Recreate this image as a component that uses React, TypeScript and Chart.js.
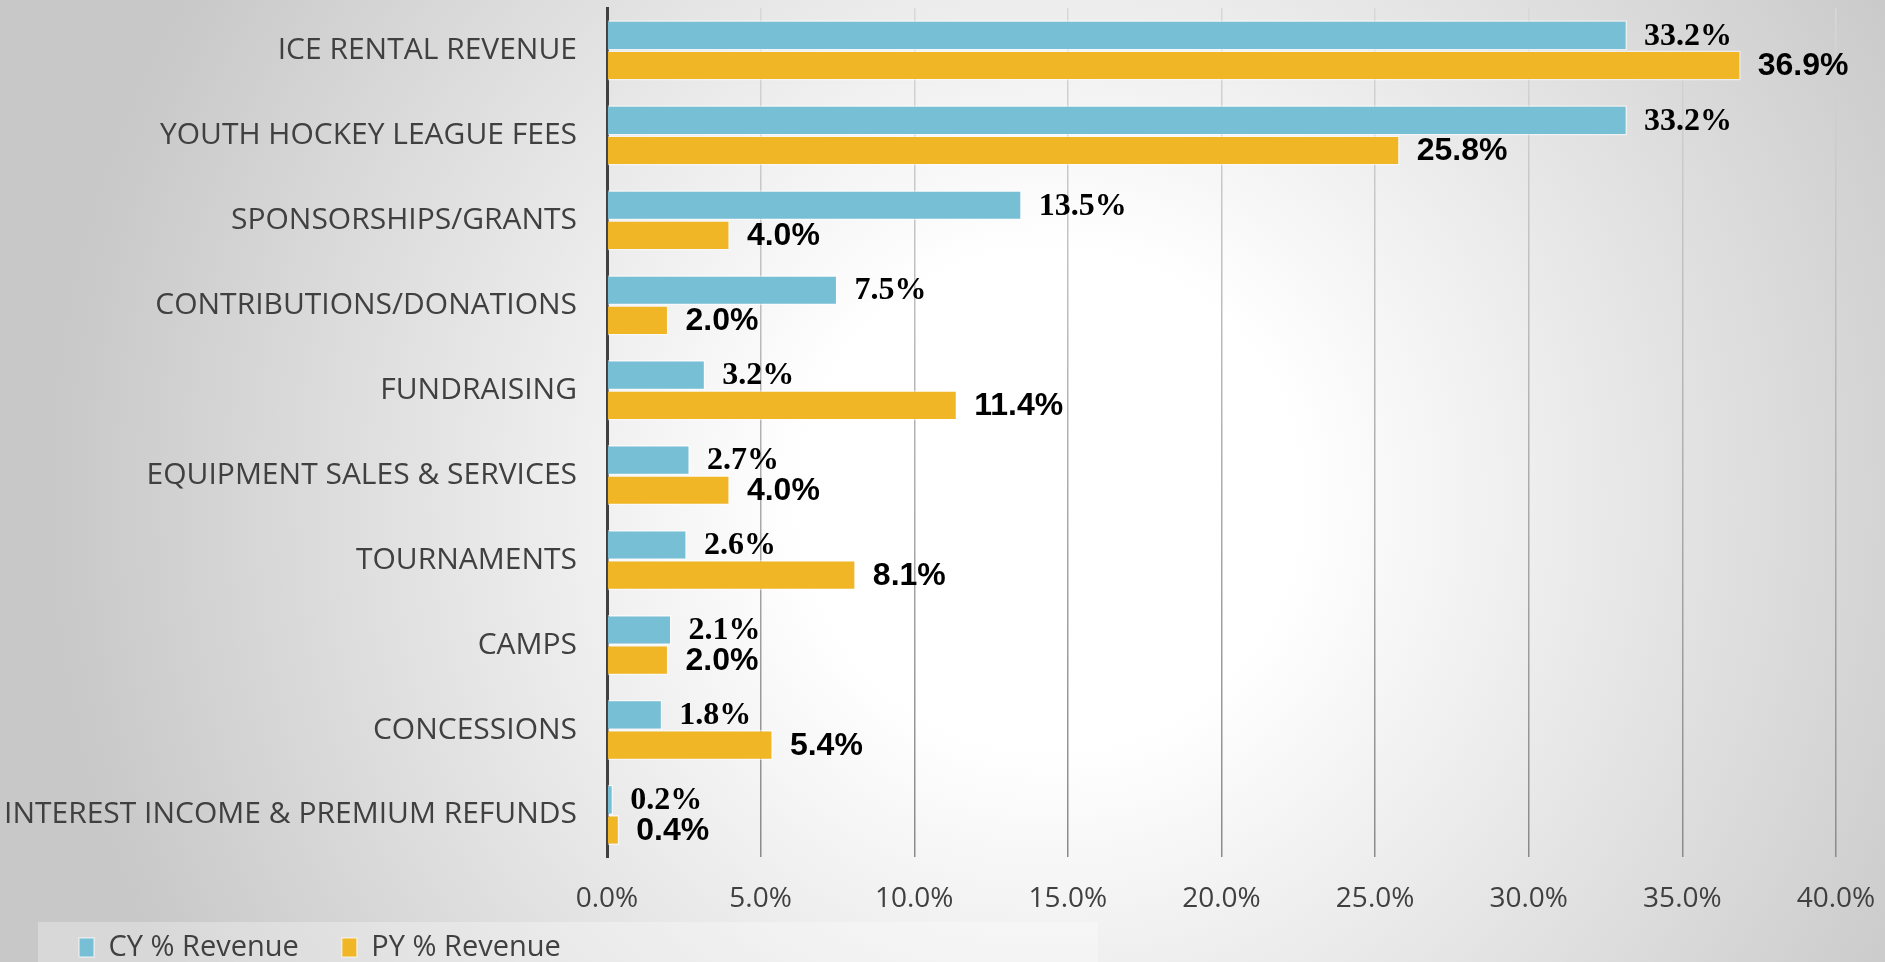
import React, { useEffect, useRef } from 'react';
import { Chart, registerables } from 'chart.js';

Chart.register(...registerables);

const categories = [
  'ICE RENTAL REVENUE',
  'YOUTH HOCKEY LEAGUE FEES',
  'SPONSORSHIPS/GRANTS',
  'CONTRIBUTIONS/DONATIONS',
  'FUNDRAISING',
  'EQUIPMENT SALES & SERVICES',
  'TOURNAMENTS',
  'CAMPS',
  'CONCESSIONS',
  'INTEREST INCOME & PREMIUM REFUNDS',
];
const cyValues = [33.2, 33.2, 13.5, 7.5, 3.2, 2.7, 2.6, 2.1, 1.8, 0.2];
const pyValues = [36.9, 25.8, 4.0, 2.0, 11.4, 4.0, 8.1, 2.0, 5.4, 0.4];
const seriesNames = ['CY % Revenue', 'PY % Revenue'];
const xMin = 0;
const xMax = 40;
const xStep = 5;

const CY_COLOR = '#77BFD5';
const PY_COLOR = '#F0B626';

export default function App() {
  const ref = useRef<HTMLCanvasElement>(null);

  useEffect(() => {
    document.body.style.margin = '0';
    const canvas = ref.current;
    if (!canvas) return;

    const bgPlugin = {
      id: 'bgPlugin',
      beforeDraw(chart: any) {
        const { ctx, width, height } = chart;
        const lg = chart.legend;
        if (lg) {
          const dy = 890 - lg.top;
          lg.top += dy;
          lg.bottom += dy;
          const dx = 36 - lg.left;
          lg.left += dx;
          lg.right += dx;
        }
        ctx.save();
        const g = ctx.createRadialGradient(1050, 500, 0, 1050, 500, 1000);
        g.addColorStop(0, '#ffffff');
        g.addColorStop(0.25, '#ffffff');
        g.addColorStop(1, '#c8c8c8');
        ctx.fillStyle = g;
        ctx.fillRect(0, 0, width, height);
        ctx.fillStyle = 'rgba(255,255,255,0.3)';
        ctx.fillRect(38, 922, 1060, height - 922);
        ctx.restore();
      },
    };

    const valuePlugin = {
      id: 'valuePlugin',
      afterDatasetsDraw(chart: any) {
        const { ctx } = chart;
        ctx.save();
        ctx.textBaseline = 'middle';
        ctx.textAlign = 'left';
        ctx.fillStyle = '#000000';
        chart.data.datasets.forEach((ds: any, di: number) => {
          const meta = chart.getDatasetMeta(di);
          ctx.font = di === 0 ? 'bold 32px "Liberation Serif"' : 'bold 32px "Liberation Sans"';
          meta.data.forEach((bar: any, i: number) => {
            const v = ds.data[i] as number;
            ctx.fillText(v.toFixed(1) + '%', bar.x + 17, bar.y + 1);
          });
        });
        ctx.restore();
      },
    };

    const chart = new Chart(canvas, {
      type: 'bar',
      data: {
        labels: categories,
        datasets: [
          {
            label: seriesNames[0],
            data: cyValues,
            backgroundColor: CY_COLOR,
            borderColor: 'rgba(255,255,255,0.55)',
            borderWidth: 1.5,
            barPercentage: 1,
            categoryPercentage: 0.71,
          },
          {
            label: seriesNames[1],
            data: pyValues,
            backgroundColor: PY_COLOR,
            borderColor: 'rgba(255,255,255,0.55)',
            borderWidth: 1.5,
            barPercentage: 1,
            categoryPercentage: 0.71,
          },
        ],
      },
      options: {
        indexAxis: 'y',
        animation: false,
        responsive: true,
        maintainAspectRatio: false,
        layout: { padding: { left: 0, top: 8, right: 49, bottom: -61 } },
        plugins: {
          legend: {
            display: true,
            position: 'bottom',
            align: 'start',
            labels: {
              boxWidth: 15,
              boxHeight: 19,
              padding: 43,
              color: '#404040',
              font: { family: '"Open Sans"', size: 29 },
            },
          },
          tooltip: { enabled: false },
        },
        scales: {
          x: {
            type: 'linear',
            position: 'bottom',
            min: xMin,
            max: xMax,
            afterFit: (scale: any) => {
              scale.paddingLeft = 0;
              scale.paddingRight = 0;
            },
            ticks: {
              stepSize: xStep,
              padding: 25,
              maxRotation: 0,
              color: '#404040',
              font: { family: '"Open Sans"', size: 28 },
              callback: (v: any) => Number(v).toFixed(1) + '%',
            },
            grid: {
              drawTicks: false,
              lineWidth: 1.5,
              color: (c: any) => {
                const area = c.chart.chartArea;
                if (!area) return '#a0a0a0';
                const g = c.chart.ctx.createLinearGradient(0, area.top, 0, area.bottom);
                g.addColorStop(0, '#d8d8d8');
                g.addColorStop(1, '#8a8a8a');
                return g;
              },
            },
            border: { display: false },
          },
          y: {
            type: 'category',
            afterFit: (scale: any) => {
              scale.width = 607;
              scale.paddingTop = 0;
              scale.paddingBottom = 0;
            },
            ticks: {
              padding: 30,
              color: '#404040',
              font: { family: '"Open Sans"', size: 30 },
            },
            grid: { display: false, drawTicks: false },
            border: { display: true, color: '#404040', width: 3 },
          },
        },
      },
      plugins: [bgPlugin, valuePlugin],
    });

    return () => chart.destroy();
  }, []);

  return (
    <div style={{ position: 'relative', width: 1885, height: 962 }}>
      <canvas ref={ref} />
    </div>
  );
}
